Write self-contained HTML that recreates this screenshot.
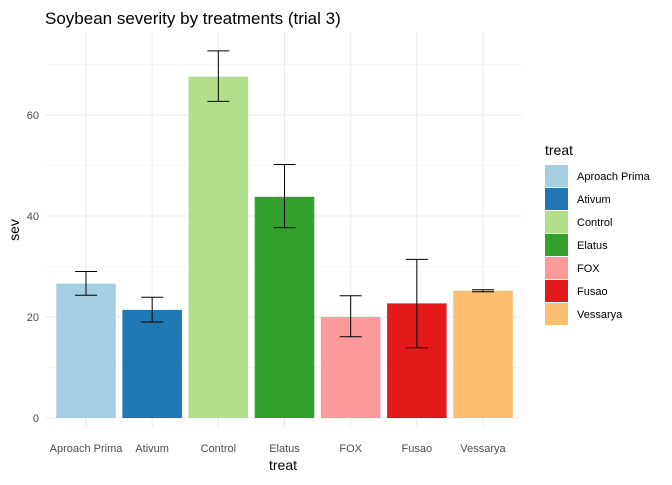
<!DOCTYPE html>
<html><head><meta charset="utf-8"><style>
body{margin:0;background:#fff;font-family:"Liberation Sans",sans-serif;}
svg text{font-family:"Liberation Sans",sans-serif;}
</style></head><body>
<svg id="c" width="672" height="480">
<text x="45" y="24" font-size="17" fill="#000">Soybean severity by treatments (trial 3)</text>
<g id="grid"></g><g id="bars"></g><g id="err"></g><g id="axes"></g><g id="legend"></g>
<text x="283" y="470" font-size="14" text-anchor="middle">treat</text>
<text transform="translate(19,230) rotate(-90)" font-size="14" text-anchor="middle">sev</text>
</svg>
<script>
const categories=["Aproach Prima","Ativum","Control","Elatus","FOX","Fusao","Vessarya"];
const sevValues=[26.6,21.4,67.6,43.8,20.0,22.7,25.2];
const errLow=[24.3,19.0,62.7,37.7,16.1,13.9,25.0];
const errHigh=[29.0,23.9,72.7,50.2,24.2,31.4,25.4];
const colors=["#a6cee3","#1f78b4","#b2df8a","#33a02c","#fb9a99","#e31a1c","#fdbf6f"];
const yTicks=[0,20,40,60];
const NS="http://www.w3.org/2000/svg";
const pLeft=45,pRight=522,pTop=32,pBottom=436;
const firstC=86,lastC=483;
const y0=418,pxPerUnit=5.05;
const yS=v=>y0-v*pxPerUnit;
const step=(lastC-firstC)/(categories.length-1);
const xS=i=>firstC+step*i;
const bw=step*0.9;
function mk(tag,attrs,parent){const e=document.createElementNS(NS,tag);for(const k in attrs)e.setAttribute(k,attrs[k]);document.getElementById(parent).appendChild(e);return e;}
for(let v=10;v<=70;v+=20){const l=mk('line',{x1:pLeft,x2:pRight,y1:yS(v),y2:yS(v),stroke:'#f0f0f0','stroke-width':0.6},'grid');

}
yTicks.forEach(v=>{const l=mk('line',{x1:pLeft,x2:pRight,y1:yS(v),y2:yS(v),stroke:'#ebebeb','stroke-width':1},'grid');


const t=mk('text',{x:pLeft-6,y:yS(v)+4,'font-size':11,fill:'#4d4d4d','text-anchor':'end'},'axes');t.textContent=v;

});
categories.forEach((c,i)=>{const l=mk('line',{x1:xS(i),x2:xS(i),y1:pTop,y2:pBottom-8,stroke:'#ebebeb','stroke-width':1},'grid');


const r=mk('rect',{x:xS(i)-bw/2,y:yS(sevValues[i]),width:bw,height:yS(0)-yS(sevValues[i]),fill:colors[i]},'bars');


const g=mk('g',{stroke:'#000','stroke-width':1},'err');


const w=11;
[[xS(i),yS(errLow[i]),xS(i),yS(errHigh[i])],[xS(i)-w,yS(errLow[i]),xS(i)+w,yS(errLow[i])],[xS(i)-w,yS(errHigh[i]),xS(i)+w,yS(errHigh[i])]].forEach(a=>{const s=document.createElementNS(NS,'line');s.setAttribute('x1',a[0]);s.setAttribute('y1',a[1]);s.setAttribute('x2',a[2]);s.setAttribute('y2',a[3]);g.appendChild(s);});
const t=mk('text',{x:xS(i),y:452,'font-size':11,fill:'#4d4d4d','text-anchor':'middle'},'axes');t.textContent=c;


const k=mk('rect',{x:545,y:165+i*23,width:23,height:22,fill:colors[i]},'legend');


const lbl=mk('text',{x:577,y:180+i*23,'font-size':11,fill:'#000'},'legend');lbl.textContent=c;

});
const legTitle=mk('text',{x:545,y:155,'font-size':14,fill:'#000'},'legend');legTitle.textContent='treat';


</script>
</body></html>
